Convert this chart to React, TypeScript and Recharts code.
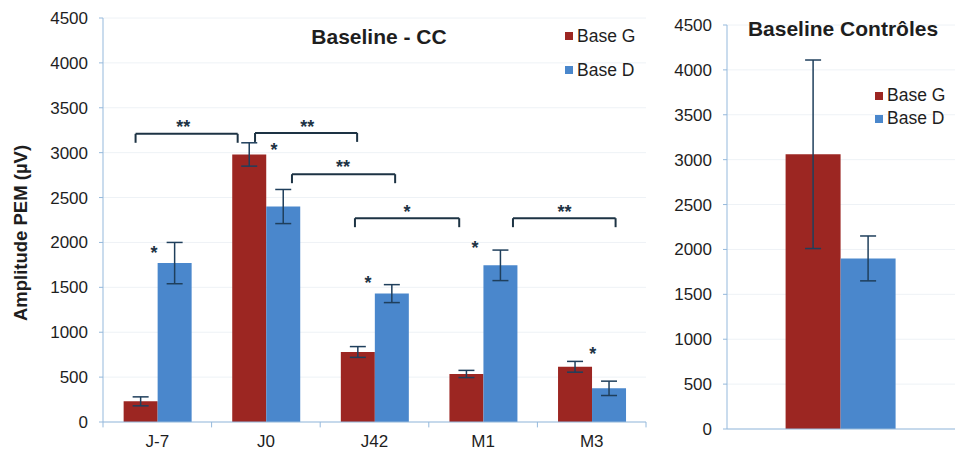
import React from 'react';
import {
  BarChart, Bar, XAxis, YAxis, CartesianGrid, ErrorBar, Legend,
  ReferenceLine, ReferenceDot,
} from 'recharts';

// ---- data ----
const categories = ['J-7', 'J0', 'J42', 'M1', 'M3'];
const baseG = [230, 2980, 780, 535, 615];
const baseGErr = [50, 130, 60, 40, 60];
const baseD = [1770, 2400, 1430, 1745, 375];
const baseDErr = [230, 190, 100, 170, 80];
const seriesNames = ['Base G', 'Base D'];

const ctrlCategories = [''];
const ctrlG = [3060];
const ctrlGErr = [1050];
const ctrlD = [1900];
const ctrlDErr = [250];

const yTicks = [0, 500, 1000, 1500, 2000, 2500, 3000, 3500, 4000, 4500];
const bandEdges = [0, 1, 2, 3, 4, 5];

// significance brackets, in (category-position, value) units
const bracketFrom = [0.3, 1.4, 1.74, 2.32, 3.775];
const bracketTo = [1.24, 2.34, 2.69, 3.28, 4.72];
const bracketY = [3210, 3220, 2760, 2270, 2270];
const bracketDrop = [100, 100, 100, 100, 100];
const bracketLabels = ['**', '**', '**', '*', '**'];
const bracketLabelX = [0.74, 1.88, 2.21, 2.8, 4.25];
const bracketLabelY = [3335, 3335, 2880, 2380, 2380];

// single asterisks
const starX = [0.47, 1.575, 2.44, 3.425, 4.51];
const starY = [1930, 3070, 1590, 1980, 800];

const mainData = categories.map((c, i) => ({
  cat: c, pos: i + 0.5, g: baseG[i], gErr: baseGErr[i], d: baseD[i], dErr: baseDErr[i],
}));
const ctrlData = ctrlCategories.map((c, i) => ({
  cat: c, g: ctrlG[i], gErr: ctrlGErr[i], d: ctrlD[i], dErr: ctrlDErr[i],
}));

const RED = '#9c2622';
const BLUE = '#4a87cc';
const AXIS = '#95b9dc';
const GRID = '#eef2f6';
const TEXT = '#1e1e1e';
const BRACKET = '#1d3344';
const ERR = '#1f3f5c';
const FONT = '"Liberation Sans", Arial, sans-serif';

const tickStyle = { fontSize: 17, fill: TEXT, fontFamily: FONT };

const legendSorter = (item: any) => seriesNames.indexOf(item.value);

const makeLegend = (rowH: number) => (props: any) => {
  const payload = [...(props.payload || [])].sort(
    (a: any, b: any) => seriesNames.indexOf(a.value) - seriesNames.indexOf(b.value),
  );
  return (
    <div style={{ fontFamily: FONT, fontSize: 17.5, color: TEXT }}>
      {payload.map((p: any) => (
        <div key={p.value} style={{ height: rowH, lineHeight: rowH + 'px', display: 'flex', alignItems: 'center', whiteSpace: 'nowrap' }}>
          <span style={{ display: 'inline-block', width: 8, height: 8, background: p.color, marginRight: 4 }} />
          <span>{p.value}</span>
        </div>
      ))}
    </div>
  );
};

const StarShape = (label: string) => (props: any) => (
  <text x={props.cx} y={props.cy + 10} textAnchor="middle" fontSize={18} fontWeight="bold" fontFamily={FONT} fill={BRACKET}>
    {label}
  </text>
);

const YLabel = (props: any) => {
  const vb = props.viewBox || { x: 0, y: 0, width: 0, height: 0 };
  const cx = vb.x + 20;
  const cy = vb.y + vb.height / 2 + 13;
  return (
    <text x={cx} y={cy} transform={`rotate(-90, ${cx}, ${cy})`} textAnchor="middle" dominantBaseline="central"
      fontSize={18.5} fontWeight="bold" fontFamily={FONT} fill={TEXT}>
      Amplitude PEM (µV)
    </text>
  );
};

export default function App() {
  const bracketEls: React.ReactNode[] = [];
  bracketFrom.forEach((f, i) => {
    const t = bracketTo[i];
    const y = bracketY[i];
    const yb = y - bracketDrop[i];
    bracketEls.push(
      <ReferenceLine key={`bh${i}`} xAxisId="num" segment={[{ x: f, y }, { x: t, y }]} stroke={BRACKET} strokeWidth={2} ifOverflow="visible" />,
      <ReferenceLine key={`bl${i}`} xAxisId="num" segment={[{ x: f, y }, { x: f, y: yb }]} stroke={BRACKET} strokeWidth={2} ifOverflow="visible" />,
      <ReferenceLine key={`br${i}`} xAxisId="num" segment={[{ x: t, y }, { x: t, y: yb }]} stroke={BRACKET} strokeWidth={2} ifOverflow="visible" />,
      <ReferenceDot key={`bt${i}`} xAxisId="num" x={bracketLabelX[i]} y={bracketLabelY[i]} r={1} ifOverflow="visible" shape={StarShape(bracketLabels[i])} />,
    );
  });
  const starEls = starX.map((x, i) => (
    <ReferenceDot key={`s${i}`} xAxisId="num" x={x} y={starY[i]} r={1} ifOverflow="visible" shape={StarShape('*')} />
  ));
  const edgeEls = bandEdges.map((e) => (
    <ReferenceLine key={`e${e}`} xAxisId="num" segment={[{ x: e, y: 0 }, { x: e, y: -60 }]} stroke={AXIS} strokeWidth={1} ifOverflow="visible" />
  ));

  return (
    <div style={{ position: 'absolute', left: 0, top: 0, width: 959, height: 455, background: '#fff', fontFamily: FONT }}>
      <div style={{ position: 'absolute', left: 0, top: 0 }}>
        <BarChart width={655} height={455} data={mainData} margin={{ top: 18, right: 9, bottom: 3, left: 0 }}
          barCategoryGap="19%" barGap={0}>
          <CartesianGrid vertical={false} stroke={GRID} />
          <XAxis dataKey="cat" tick={tickStyle} tickLine={false} axisLine={{ stroke: AXIS }} tickSize={6} tickMargin={7} height={30} interval={0} />
          <XAxis xAxisId="num" dataKey="pos" type="number" domain={[0, 5]} allowDataOverflow hide />
          <YAxis width={103} domain={[0, 4500]} ticks={yTicks} interval={0} tick={tickStyle}
            axisLine={{ stroke: AXIS }} tickLine={{ stroke: AXIS }} tickSize={4} tickMargin={11}
            label={{ content: YLabel }} />
          <Legend layout="vertical" align="center" verticalAlign="middle" content={makeLegend(34)} itemSorter={legendSorter}
            wrapperStyle={{ position: 'absolute', left: 565, top: 19, width: 'auto', height: 'auto' }} />
          <Bar dataKey="g" name="Base G" fill={RED} isAnimationActive={false}>
            <ErrorBar dataKey="gErr" width={8} stroke={ERR} strokeWidth={1.5} isAnimationActive={false} />
          </Bar>
          <Bar dataKey="d" name="Base D" fill={BLUE} isAnimationActive={false}>
            <ErrorBar dataKey="dErr" width={8} stroke={ERR} strokeWidth={1.5} isAnimationActive={false} />
          </Bar>
          {edgeEls}
          {bracketEls}
          {starEls}
        </BarChart>
        <div style={{ position: 'absolute', left: 279, width: 200, top: 26, textAlign: 'center', fontSize: 21, fontWeight: 'bold', color: TEXT, lineHeight: '22px' }}>
          Baseline - CC
        </div>
      </div>
      <div style={{ position: 'absolute', left: 655, top: 0 }}>
        <BarChart width={304} height={455} data={ctrlData} margin={{ top: 25, right: 4, bottom: 0, left: 0 }}
          barCategoryGap="25.7%" barGap={0}>
          <CartesianGrid vertical={false} stroke={GRID} />
          <XAxis dataKey="cat" tick={false} tickLine={false} axisLine={{ stroke: AXIS }} height={26} />
          <YAxis width={72} domain={[0, 4500]} ticks={yTicks} interval={0} tick={tickStyle}
            axisLine={{ stroke: AXIS }} tickLine={{ stroke: AXIS }} tickSize={4} tickMargin={11} />
          <Legend layout="vertical" align="center" verticalAlign="middle" content={makeLegend(23)} itemSorter={legendSorter}
            wrapperStyle={{ position: 'absolute', left: 220, top: 84, width: 'auto', height: 'auto' }} />
          <Bar dataKey="g" name="Base G" fill={RED} isAnimationActive={false}>
            <ErrorBar dataKey="gErr" width={8} stroke={ERR} strokeWidth={1.5} isAnimationActive={false} />
          </Bar>
          <Bar dataKey="d" name="Base D" fill={BLUE} isAnimationActive={false}>
            <ErrorBar dataKey="dErr" width={8} stroke={ERR} strokeWidth={1.5} isAnimationActive={false} />
          </Bar>
        </BarChart>
        <div style={{ position: 'absolute', left: 38, width: 300, top: 18, textAlign: 'center', fontSize: 21, fontWeight: 'bold', color: TEXT, lineHeight: '22px' }}>
          Baseline Contrôles
        </div>
      </div>
    </div>
  );
}
